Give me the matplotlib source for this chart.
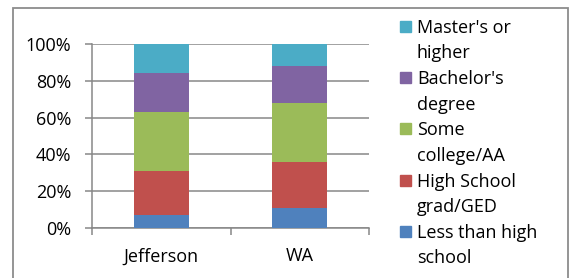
import numpy as np
import matplotlib.pyplot as plt
from matplotlib.patches import Rectangle
from matplotlib.ticker import PercentFormatter

plt.rcParams['font.family'] = ['Open Sans', 'DejaVu Sans']

places = ["Jefferson", "WA"]
levels = ["Less than high\nschool", "High School\ngrad/GED", "Some\ncollege/AA",
          "Bachelor's\ndegree", "Master's or\nhigher"]
less_than_hs = [7, 11]
hs_grad = [24, 25]
some_college = [32, 32]
bachelors = [21, 20]
masters = [16, 12]
colors = ["#4F81BD", "#C0504D", "#9BBB59", "#8064A2", "#4BACC6"]

W, H = 573, 278
fig = plt.figure(figsize=(W / 100, H / 100), dpi=100)
ax = fig.add_axes([92 / W, 1 - 228 / H, 277 / W, 184 / H])

grid_col = "#878787"
series = [less_than_hs, hs_grad, some_college, bachelors, masters]
x = np.arange(len(places))
bottom = np.zeros(len(places))
for vals, col in zip(series, colors):
    ax.bar(x, vals, width=0.4, bottom=bottom, color=col, zorder=3)
    bottom += np.array(vals)

ax.set_xlim(-0.5, len(places) - 0.5)
ax.set_ylim(0, 100)
ax.set_yticks(np.arange(0, 101, 20))
ax.yaxis.set_major_formatter(PercentFormatter(decimals=0))
ax.grid(axis="y", color=grid_col, linewidth=1.1, zorder=0)
for s in ["top", "right"]:
    ax.spines[s].set_visible(False)
for s in ["left", "bottom"]:
    ax.spines[s].set_color(grid_col)
    ax.spines[s].set_linewidth(1.1)

fs = 13
ax.set_xticks(x)
ax.set_xticklabels(places)
ax.set_xticks(np.arange(-0.5, len(places)), minor=True)
ax.tick_params(axis="x", which="major", length=0, pad=14, labelsize=fs)
ax.tick_params(axis="x", which="minor", length=5, color=grid_col, width=1.1)
ax.tick_params(axis="y", length=5, color=grid_col, width=1.1, pad=10, labelsize=fs)

# legend drawn by hand so the swatch sits on the first line
for i, (lab, col) in enumerate(zip(levels[::-1], colors[::-1])):
    top = 21 + i * 51.2
    fig.patches.append(Rectangle((400 / W, 1 - (top + 11) / H), 11 / W, 11 / H,
                                 transform=fig.transFigure, color=col))
    for j, line in enumerate(lab.split("\n")):
        fig.text(417 / W, 1 - (top + 7 + j * 25.5) / H, line, va="center",
                 ha="left", fontsize=fs)

fig.patches.append(Rectangle((12.5 / W, -0.1), 555 / W, 1.1 - 8 / H,
                             transform=fig.transFigure, fill=False,
                             edgecolor="#8c8c8c", linewidth=1.3))

fig.savefig("out.png", dpi=100)
